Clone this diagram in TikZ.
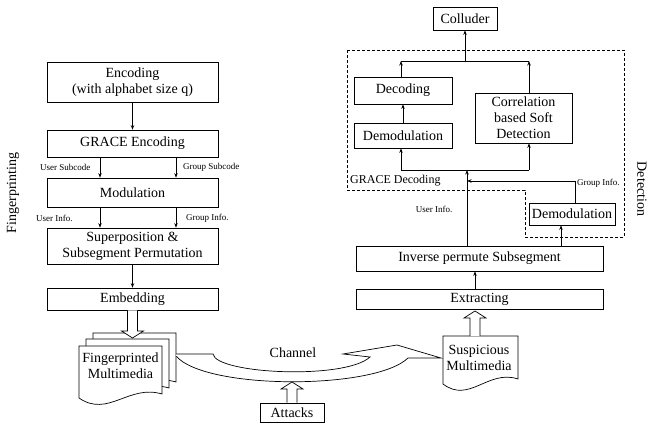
\documentclass[tikz,border=0pt]{standalone}
\usepackage{fontspec}
\setmainfont{Liberation Serif}
\usetikzlibrary{arrows.meta,calc}

% hollow block arrow from #1 to the height of #2
\newcommand{\fatarrow}[2]{%
  \draw[ln, fill=white] let \p1=(#1), \p2=(#2), \n1={7*sign(\y2-\y1)} in
    ({\x1-5pt},{\y1}) -- ({\x1-5pt},{\y2-(\n1)*1pt}) -- ({\x1-11pt},{\y2-(\n1)*1pt}) -- ({\x1},{\y2})
    -- ({\x1+11pt},{\y2-(\n1)*1pt}) -- ({\x1+5pt},{\y2-(\n1)*1pt}) -- ({\x1+5pt},{\y1});}
% page with a wavy bottom: left, top, right, left bottom, right bottom
\newcommand{\docpage}[5]{%
  \draw[ln, fill=white] (#1,#2) -- (#3,#2) -- (#3,#5)
    .. controls ({#3-0.4*(#3-#1)},{#5-10}) and ({#1+0.35*(#3-#1)},{#4+20}) .. (#1,#4) -- cycle;}

\begin{document}
\begin{tikzpicture}[x=1pt,y=-1pt,
    ln/.style={line width=0.7pt},
    box/.style={draw, ln, inner sep=0pt, align=center, font=\fontsize{14}{16}\selectfont},
    lbl/.style={inner sep=0pt, font=\fontsize{9}{10}\selectfont},
    big/.style={inner sep=0pt, align=center, font=\fontsize{14}{16}\selectfont},
    arr/.style={ln, -{Stealth[length=4.5pt,width=3.5pt]}}]
\useasboundingbox (0,0) rectangle (652,423);

% fingerprinting side
\node[box, minimum width=171pt, minimum height=40pt] (enc) at (132.5,82) {Encoding\\(with alphabet size q)};
\node[box, minimum width=171pt, minimum height=27pt] (grace) at (132.5,143.5) {GRACE Encoding};
\node[box, minimum width=171pt, minimum height=29pt] (mod) at (132.5,192.5) {Modulation};
\node[box, minimum width=171pt, minimum height=36pt] (sup) at (132.5,246) {Superposition \&\\Subsegment Permutation};
\node[box, minimum width=171pt, minimum height=22pt] (emb) at (132.5,299) {Embedding};

\node[lbl, anchor=west] (usub) at (40,167) {User Subcode};
\node[lbl, anchor=west] (gsub) at (183,167) {Group Subcode};
\node[lbl, anchor=west] (uinf) at (36,218) {User Info.};
\node[lbl, anchor=west] (ginf) at (186,218) {Group Info.};
\node[big, rotate=90] (fp) at (13,193) {Fingerprinting};

\draw[arr] (enc) -- (grace);
\draw[arr] ([xshift=-32.5pt]grace.south) -- ([xshift=-32.5pt]mod.north);
\draw[arr] ([xshift=43.5pt]grace.south) -- ([xshift=43.5pt]mod.north);
\draw[arr] ([xshift=-32.5pt]mod.south) -- ([xshift=-32.5pt]sup.north);
\draw[arr] ([xshift=43.5pt]mod.south) -- ([xshift=43.5pt]sup.north);
\draw[arr] (sup) -- (emb);

% multimedia pages
\docpage{93}{333}{176}{385}{382}
\docpage{86}{339}{169}{391}{388}
\docpage{79}{346}{162}{398}{394}
\node[big] (fpm) at (120.5,366) {Fingerprinted\\Multimedia};
\coordinate (embtip) at (133,338);
\fatarrow{emb.south}{embtip}

\docpage{443}{336}{518}{384}{379}
\node[big] (susp) at (479,357.5) {Suspicious\\Multimedia};
\coordinate (susptop) at (475,336);

% channel
\draw[ln, fill=white] (176,354) -- (213,354) .. controls (216,374) and (345,380) .. (370,357)
  -- (343,354) -- (397,345) -- (441,358) -- (408,358)
  .. controls (375,390) and (205,390) .. (176,356);
\node[big] (chan) at (293,353) {Channel};
\node[box, minimum width=64pt, minimum height=19pt] (att) at (292,412.5) {Attacks};
\coordinate (atttip) at (290,382);
\fatarrow{att.north}{atttip}

% detection side
\node[box, minimum width=64pt, minimum height=23pt] (coll) at (465,18.5) {Colluder};
\node[box, minimum width=98pt, minimum height=27pt] (dec) at (403,90.5) {Decoding};
\node[box, minimum width=98pt, minimum height=25pt] (demodl) at (403,135.5) {Demodulation};
\node[box, minimum width=97pt, minimum height=50pt] (corr) at (523.5,118) {Correlation\\based Soft\\Detection};
\node[box, minimum width=86pt, minimum height=22pt] (demodr) at (572,214) {Demodulation};
\node[box, minimum width=247pt, minimum height=25pt] (inv) at (479.5,258.5) {Inverse permute Subsegment};
\node[box, minimum width=247pt, minimum height=20pt] (extr) at (479.5,299) {Extracting};
\coordinate (susptip) at (475,311);
\fatarrow{susptop}{susptip}

\draw[ln, dash pattern=on 3pt off 2pt] (347,50) -- (624,50) -- (624,237) -- (525,237) -- (525,190) -- (347,190) -- cycle;
\node[inner sep=0pt, anchor=west, font=\fontsize{12}{14}\selectfont] (gdec) at (350,181) {GRACE Decoding};
\node[lbl] (uinfr) at (434,209) {User Info.};
\node[lbl, anchor=west] (ginfr) at (577,183) {Group Info.};
\node[big, rotate=-90] (det) at (642,189) {Detection};

\coordinate (lanea) at (401,0);
\coordinate (laneb) at (529,0);
\coordinate (jn) at (467,170);
\coordinate (gi) at (467,181);
\coordinate (tp) at (465,61);

\draw[arr] ([xshift=-4.5pt]extr.north) -- ([xshift=-4.5pt]inv.south);
\draw[arr] ([xshift=81.5pt]inv.north) -- ([xshift=-11pt]demodr.south);
\draw[arr] ([xshift=3pt]demodr.north) |- (gi);
\draw[arr] (inv.north -| jn) -- (jn);
\draw[ln] (jn -| lanea) -- (jn -| laneb);
\draw[arr] (jn -| lanea) -- (demodl.south -| lanea);
\draw[arr] (jn -| laneb) -- (corr.south -| laneb);
\draw[arr] (demodl) -- (dec);
\draw[arr] (dec.north -| lanea) -- (tp -| lanea);
\draw[arr] (corr.north -| laneb) -- (tp -| laneb);
\draw[ln] (tp -| lanea) -- (tp -| laneb);
\draw[arr] (tp) -- (coll);
\end{tikzpicture}
\end{document}
